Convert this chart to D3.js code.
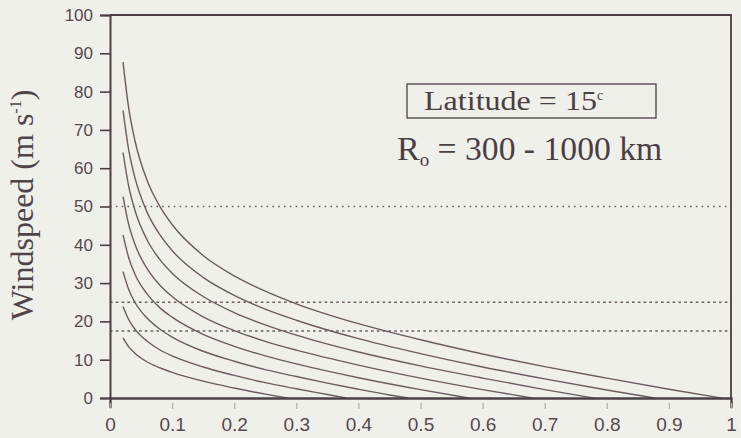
<!DOCTYPE html>
<html>
<head>
<meta charset="utf-8">
<script src="https://cdn.jsdelivr.net/npm/d3@7"></script>
<style>
  html, body { margin: 0; padding: 0; background: #f0f0ea; }
  svg { display: block; }
</style>
</head>
<body>
<svg id="chart" width="741" height="438"></svg>
<script>
// Outer radius of each profile (km)
const outerRadiiKm = [300, 400, 500, 600, 700, 800, 900, 1000];

// Windspeed profiles: [radius (x-axis units), windspeed (m/s)]
const speed300  = [[0.021,15.7],[0.03,13.4],[0.04,11.7],[0.06,9.4],[0.08,7.9],[0.1,6.7],[0.15,4.4],[0.2,2.6],[0.25,1.0],[0.285,0]];
const speed400  = [[0.021,23.9],[0.03,20.5],[0.04,18.0],[0.06,14.8],[0.08,12.6],[0.1,11.0],[0.15,8.1],[0.2,5.9],[0.25,4.0],[0.3,2.4],[0.35,0.9],[0.38,0]];
const speed500  = [[0.021,33.0],[0.03,28.4],[0.04,25.0],[0.06,20.8],[0.08,18.0],[0.1,15.9],[0.15,12.2],[0.2,9.6],[0.25,7.4],[0.3,5.6],[0.35,3.9],[0.4,2.3],[0.45,0.8],[0.48,0]];
const speed600  = [[0.021,42.6],[0.03,36.7],[0.04,32.4],[0.06,27.1],[0.08,23.6],[0.1,21.1],[0.15,16.6],[0.2,13.5],[0.25,11.0],[0.3,8.9],[0.4,5.3],[0.5,2.2],[0.578,0]];
const speed700  = [[0.021,52.6],[0.03,45.4],[0.04,40.2],[0.06,33.7],[0.08,29.5],[0.1,26.5],[0.15,21.2],[0.2,17.6],[0.25,14.8],[0.3,12.5],[0.4,8.6],[0.5,5.2],[0.6,2.2],[0.68,0]];
const speed800  = [[0.021,64.1],[0.03,55.4],[0.04,49.1],[0.06,41.2],[0.08,36.2],[0.1,32.6],[0.15,26.5],[0.2,22.3],[0.25,19.1],[0.3,16.4],[0.4,12.0],[0.5,8.4],[0.6,5.2],[0.7,2.2],[0.778,0]];
const speed900  = [[0.021,75.1],[0.03,64.9],[0.04,57.6],[0.06,48.4],[0.08,42.7],[0.1,38.5],[0.15,31.5],[0.2,26.8],[0.25,23.2],[0.3,20.3],[0.4,15.5],[0.5,11.6],[0.6,8.1],[0.7,5.0],[0.8,2.1],[0.877,0]];
const speed1000 = [[0.021,87.7],[0.03,75.8],[0.04,67.3],[0.06,56.7],[0.08,50.1],[0.1,45.3],[0.15,37.2],[0.2,31.9],[0.25,27.9],[0.3,24.6],[0.4,19.4],[0.5,15.2],[0.6,11.5],[0.7,8.2],[0.8,5.2],[0.9,2.3],[0.984,0]];

// Reference windspeed thresholds (m/s)
const thresholds = [50, 25, 17.5];

// Axis ticks
const xTicks = [0, 0.1, 0.2, 0.3, 0.4, 0.5, 0.6, 0.7, 0.8, 0.9, 1];
const yTicks = [0, 10, 20, 30, 40, 50, 60, 70, 80, 90, 100];

const profiles = [speed300, speed400, speed500, speed600, speed700, speed800, speed900, speed1000];

const svg = d3.select("#chart");
const plot = { left: 110, right: 731, top: 15, bottom: 398 };

const x = d3.scaleLinear().domain([0, 1]).range([plot.left, plot.right]);
const y = d3.scaleLinear().domain([0, 100]).range([plot.bottom, plot.top]);

const ink = "#4b3f45";
const curveInk = "#6c5b63";
const serif = "'Liberation Serif', 'Times New Roman', serif";

// Threshold lines
const dashes = { 50: "1.6,4.2", 25: "2.6,3.2", 17.5: "2.6,3.2" };
svg.append("g").selectAll("line").data(thresholds).join("line")
  .attr("x1", x(0)).attr("x2", x(1))
  .attr("y1", d => y(d)).attr("y2", d => y(d))
  .attr("stroke", "#6a5d63").attr("stroke-width", 1.6)
  .attr("stroke-dasharray", d => dashes[d]);

// Profiles
const line = d3.line().x(d => x(d[0])).y(d => y(d[1])).curve(d3.curveMonotoneX);
svg.append("g").selectAll("path").data(profiles).join("path")
  .attr("d", line)
  .attr("fill", "none").attr("stroke", curveInk).attr("stroke-width", 1.4);

// Frame: top and right edges
svg.append("path")
  .attr("d", `M${x(0)},${y(100)}H${x(1)}V${y(0)}`)
  .attr("fill", "none").attr("stroke", ink).attr("stroke-width", 1.8);

// Y axis
const yAxis = svg.append("g").attr("transform", `translate(${plot.left},0)`)
  .call(d3.axisLeft(y).tickValues(yTicks).tickSize(10).tickPadding(7).tickFormat(d3.format("d")));
yAxis.select(".domain").attr("stroke", ink).attr("stroke-width", 2);
yAxis.selectAll(".tick line").attr("stroke", ink).attr("stroke-width", 1.6);
yAxis.selectAll("text").attr("fill", "#54494e")
  .style("font-family", "'Liberation Sans', Arial, sans-serif").style("font-size", "17px");

// X axis
const xAxis = svg.append("g").attr("transform", `translate(0,${plot.bottom})`)
  .call(d3.axisBottom(x).tickValues(xTicks).tickSize(10).tickPadding(10)
    .tickFormat(d => (d === 0 || d === 1) ? String(d) : d3.format(".1f")(d)));
xAxis.select(".domain").attr("stroke", ink).attr("stroke-width", 2.4);
xAxis.selectAll(".tick line").attr("y1", 5).attr("y2", 11).attr("stroke", "#b5acaf").attr("stroke-width", 1.2);
xAxis.selectAll("text").attr("fill", "#54494e")
  .style("font-family", "'Liberation Sans', Arial, sans-serif").style("font-size", "19px");

// Y axis title
const yTitle = svg.append("text")
  .attr("transform", "translate(33,205) rotate(-90)")
  .attr("text-anchor", "middle")
  .attr("fill", "#4f4549")
  .style("font-family", serif)
  .style("font-size", "32px");
yTitle.append("tspan").text("Windspeed (m s");
yTitle.append("tspan").attr("dy", -12).style("font-size", "16px").text("-1");
yTitle.append("tspan").attr("dy", 12).text(")");

// Latitude box
svg.append("rect")
  .attr("x", 407).attr("y", 84).attr("width", 249).attr("height", 34)
  .attr("fill", "none").attr("stroke", ink).attr("stroke-width", 1.3);
const lat = svg.append("text")
  .attr("x", 424).attr("y", 110)
  .attr("fill", "#4a3f44")
  .style("font-family", serif)
  .style("font-size", "27px");
lat.append("tspan").attr("textLength", 173).attr("lengthAdjust", "spacingAndGlyphs").text("Latitude = 15");
lat.append("tspan").attr("dy", -10).style("font-size", "14px").text("c");

// Radius range annotation
const ro = svg.append("text")
  .attr("x", 397).attr("y", 160)
  .attr("fill", "#4a3f44")
  .style("font-family", serif)
  .style("font-size", "34px");
ro.append("tspan").text("R");
ro.append("tspan").attr("dy", 6).style("font-size", "19px").text("o");
ro.append("tspan").attr("dy", -6).attr("textLength", 233).attr("lengthAdjust", "spacingAndGlyphs")
  .text(` = ${d3.min(outerRadiiKm)} - ${d3.max(outerRadiiKm)} km`);
</script>
</body>
</html>
